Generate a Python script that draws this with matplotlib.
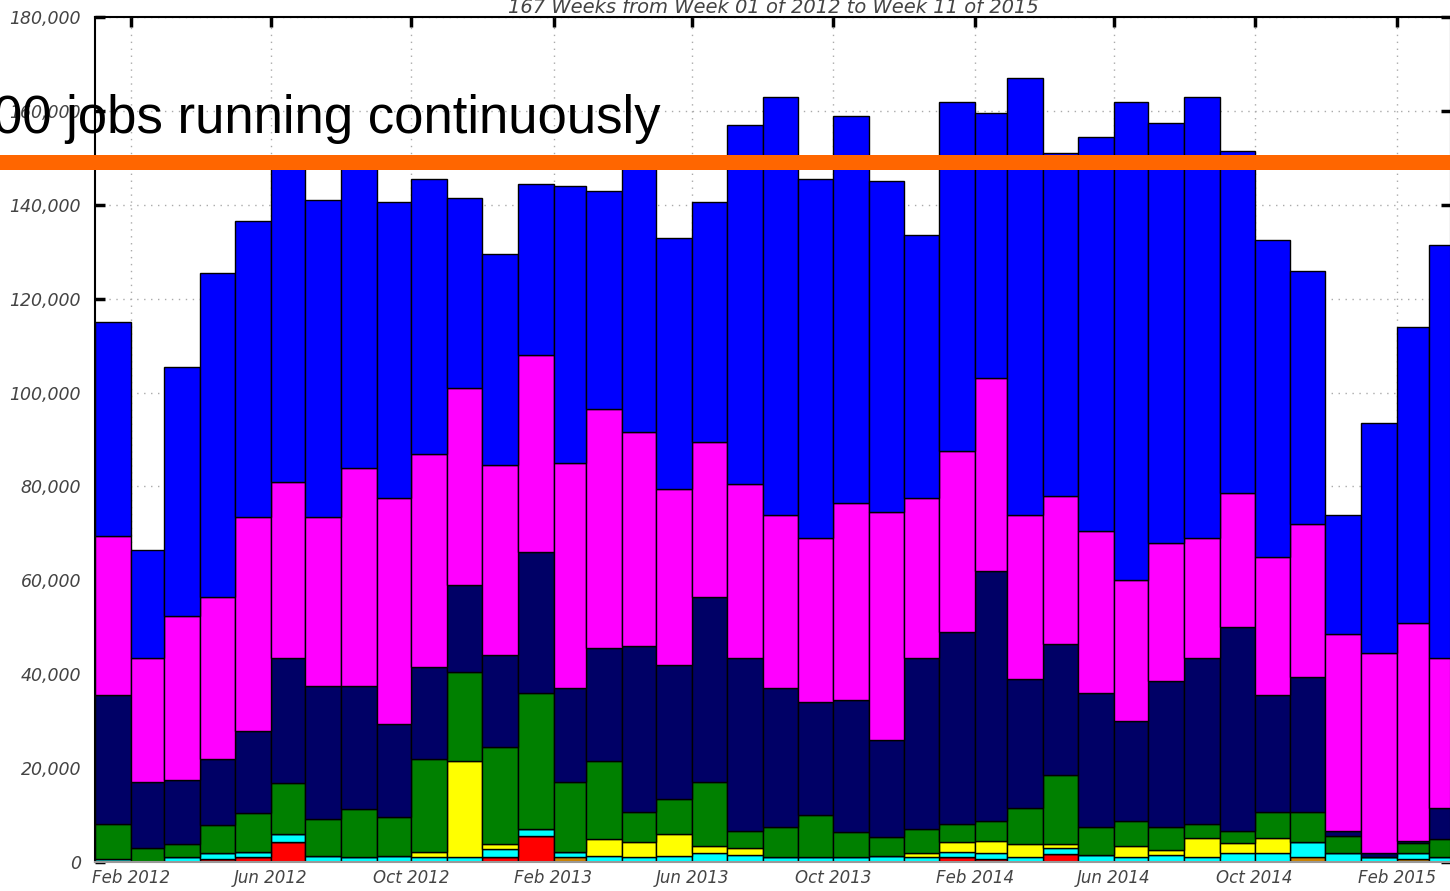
import numpy as np
import pandas as pd
import matplotlib
matplotlib.use("Agg")
from matplotlib import pyplot as plt
import matplotlib.dates as mdates
from matplotlib.ticker import FuncFormatter, MultipleLocator

# monthly totals, Jan 2012 .. Mar 2015
months = pd.date_range("2012-01-01", periods=39, freq="MS")

red = [0, 0, 0, 600, 1000, 4300, 0, 0, 0, 0, 0, 1000, 5500, 0, 0, 0, 0, 0, 0, 0,
       0, 0, 0, 0, 1000, 600, 0, 1700, 0, 0, 0, 0, 0, 0, 0, 0, 0, 0, 0]
orange = [0, 0, 0, 0, 0, 0, 0, 0, 0, 0, 0, 0, 0, 1000, 0, 0, 0, 0, 0, 0,
          0, 0, 0, 0, 0, 0, 0, 0, 0, 0, 0, 0, 0, 0, 1000, 0, 0, 600, 0]
cyan = [600, 0, 1000, 1250, 1200, 1700, 1300, 1000, 1200, 1100, 1000, 1700, 1500, 1200,
        1300, 1000, 1300, 2000, 1500, 1000, 1000, 1000, 1300, 1000, 1200, 1250, 1000,
        1200, 1500, 1000, 1500, 1000, 1850, 1850, 3300, 1850, 1000, 1250, 1000]
yellow = [0, 0, 0, 0, 0, 0, 0, 0, 0, 1100, 20500, 1100, 0, 0, 3700, 3200, 4600, 1400,
          1500, 0, 0, 0, 0, 850, 2000, 2650, 2800, 900, 0, 2400, 1100, 4200, 2150, 3350,
          0, 0, 0, 0, 0]
green = [7600, 2900, 2800, 6050, 8200, 10800, 7900, 10200, 8300, 19800, 19000, 20700,
         29000, 14800, 16500, 6500, 7600, 13600, 3700, 6500, 9000, 5300, 4100, 5150,
         4000, 4200, 7800, 14700, 5900, 5300, 4800, 3000, 2600, 5500, 6400, 3650, 0,
         2150, 4000]
navy = [27300, 14100, 13700, 14100, 17600, 26700, 28300, 26300, 20000, 19500, 18500,
        19500, 30000, 20000, 24000, 35300, 28500, 39500, 36800, 29500, 24000, 28200,
        20600, 36500, 40800, 53300, 27400, 28000, 28600, 21300, 31100, 35300, 43400,
        24800, 28800, 1200, 1000, 500, 6400]
magenta = [34000, 26500, 35000, 34500, 45500, 37500, 36000, 46500, 48000, 45500, 42000,
           40500, 42000, 48000, 51000, 45500, 37500, 33000, 37000, 37000, 35000, 42000,
           48500, 34000, 38500, 41000, 35000, 31500, 34500, 30000, 29500, 25500, 28500,
           29500, 32500, 41800, 42500, 46500, 32100]
blue = [45500, 23000, 53000, 69000, 63000, 68000, 67500, 64500, 63000, 58500, 40500,
        45000, 36500, 59000, 46500, 57500, 53500, 51000, 76500, 89000, 76500, 82500,
        70500, 56000, 74500, 56500, 93000, 73000, 84000, 102000, 89500, 94000, 73000,
        67500, 53800, 25500, 49000, 63000, 88000]

series = [
    (red, "#ff0000"),
    (orange, "#cc8400"),
    (cyan, "#00ffff"),
    (yellow, "#ffff00"),
    (green, "#008000"),
    (navy, "#000066"),
    (magenta, "#ff00ff"),
    (blue, "#0000ff"),
]

threshold = 149200
title = "167 Weeks from Week 01 of 2012 to Week 11 of 2015"
note = "00 jobs running continuously"

fig = plt.figure(figsize=(14.5, 8.91), dpi=100)
ax = fig.add_axes([95 / 1450, 1 - 862 / 891, 1356 / 1450, 845 / 891])

x = mdates.date2num(months.to_pydatetime())
widths = np.array(months.days_in_month, dtype=float)
bottom = np.zeros(len(months))
for values, color in series:
    v = np.array(values, dtype=float)
    ax.bar(x, v, width=widths, bottom=bottom, align="edge", color=color,
           edgecolor="black", linewidth=1.0, zorder=2)
    bottom += v

ax.set_xlim(mdates.date2num(pd.Timestamp("2012-01-01")),
            mdates.date2num(pd.Timestamp("2015-03-20")))
ax.set_ylim(0, 180000)
ax.xaxis.set_major_locator(mdates.MonthLocator(bymonth=[2, 6, 10]))
ax.xaxis.set_major_formatter(mdates.DateFormatter("%b %Y"))
ax.yaxis.set_major_locator(MultipleLocator(20000))
ax.yaxis.set_major_formatter(FuncFormatter(lambda v, p: f"{int(v):,}"))

ax.grid(True, linestyle=(0, (1, 4)), color="#aaaaaa", linewidth=1.0, zorder=0)
ax.set_axisbelow(True)
ax.tick_params(direction="in", length=7, width=2.5, top=True, right=True,
               labelsize=12, labelcolor="#444444", color="black")
ax.tick_params(axis="y", pad=10, labelsize=12.5)
ax.tick_params(axis="x", pad=5)
for lab in ax.get_xticklabels() + ax.get_yticklabels():
    lab.set_style("italic")

for side in ["left", "top", "right"]:
    ax.spines[side].set_linewidth(1.5)
    ax.spines[side].set_color("black")
ax.spines["bottom"].set_color("#999999")
ax.spines["bottom"].set_linewidth(1.5)

ax.annotate(title, xy=(0.5, 1.0), xycoords="axes fraction", xytext=(0, 3),
            textcoords="offset points", ha="center", va="baseline",
            fontsize=14, style="italic", color="#444444")

# capacity line across the whole figure
ax.axhline(threshold, xmin=-0.08, xmax=1.02, color="#ff6600", linewidth=10.8,
           clip_on=False, zorder=5)
fig.text(-7 / 1450, 1 - 133 / 891, note, fontsize=38, family="Liberation Sans",
         color="black", ha="left", va="baseline", zorder=6)

fig.savefig("out.png", dpi=100)
